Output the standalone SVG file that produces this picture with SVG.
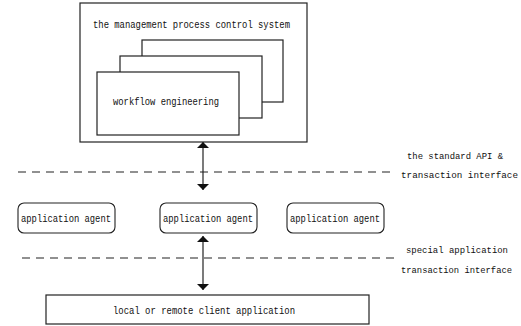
<svg xmlns="http://www.w3.org/2000/svg" width="521" height="326" viewBox="0 0 521 326">
  <defs>
    <style>
      .box { fill: #ffffff; stroke: #222222; stroke-width: 1.2; }
      .agent { fill: #ffffff; stroke: #222222; stroke-width: 1.1; }
      .dash { stroke: #222222; stroke-width: 1.1; stroke-dasharray: 8 6; fill: none; }
      .conn { stroke: #222222; stroke-width: 1.2; fill: none; }
      text { font-family: "Liberation Mono", "DejaVu Sans Mono", monospace; font-size: 11px; fill: #111111; dominant-baseline: central; }
      text.side { font-size: 9.3px; }
    </style>
    <marker id="ah" viewBox="0 0 10 10" refX="10" refY="5" markerWidth="6" markerHeight="12" markerUnits="userSpaceOnUse" orient="auto-start-reverse" preserveAspectRatio="none">
      <path d="M0,0 L10,5 L0,10 Z" fill="#111111"/>
    </marker>
  </defs>
  <rect width="521" height="326" fill="#ffffff"/>

  <g id="management-system">
    <rect class="box" x="80" y="3" width="227" height="139"/>
    <text x="93" y="25" textLength="197" lengthAdjust="spacingAndGlyphs">the management process control system</text>
  </g>

  <g id="workflow-back">
    <rect class="box" x="142" y="40" width="141" height="62"/>
  </g>
  <g id="workflow-middle">
    <rect class="box" x="120" y="56" width="142" height="62"/>
  </g>
  <g id="workflow-engineering">
    <rect class="box" x="97" y="72" width="142" height="63"/>
    <text x="113" y="102" textLength="106" lengthAdjust="spacingAndGlyphs">workflow engineering</text>
  </g>

  <g id="api-interface-label">
    <text class="side" x="407" y="156" textLength="96" lengthAdjust="spacingAndGlyphs">the standard API &amp;</text>
    <text class="side" x="401" y="175" textLength="117" lengthAdjust="spacingAndGlyphs">transaction interface</text>
  </g>

  <g id="agent-1">
    <rect class="agent" x="18" y="203" width="97" height="30" rx="6" ry="6"/>
    <text x="21" y="219" textLength="90" lengthAdjust="spacingAndGlyphs">application agent</text>
  </g>
  <g id="agent-2">
    <rect class="agent" x="160" y="203" width="97" height="30" rx="6" ry="6"/>
    <text x="163" y="219" textLength="90" lengthAdjust="spacingAndGlyphs">application agent</text>
  </g>
  <g id="agent-3">
    <rect class="agent" x="287" y="203" width="97" height="30" rx="6" ry="6"/>
    <text x="290" y="219" textLength="90" lengthAdjust="spacingAndGlyphs">application agent</text>
  </g>

  <g id="special-interface-label">
    <text class="side" x="406" y="250" textLength="102" lengthAdjust="spacingAndGlyphs">special application</text>
    <text class="side" x="401" y="270" textLength="111" lengthAdjust="spacingAndGlyphs">transaction interface</text>
  </g>

  <g id="client-application">
    <rect class="box" x="46" y="295" width="323" height="29"/>
    <text x="113" y="311" textLength="182" lengthAdjust="spacingAndGlyphs">local or remote client application</text>
  </g>

  <g id="connectors">
    <line class="dash" x1="18" y1="172" x2="396" y2="172"/>
    <line class="dash" x1="22" y1="258" x2="396" y2="258"/>
    <line class="conn" x1="203" y1="142" x2="203" y2="190" marker-start="url(#ah)" marker-end="url(#ah)"/>
    <line class="conn" x1="203" y1="236" x2="203" y2="290" marker-start="url(#ah)" marker-end="url(#ah)"/>
  </g>
</svg>
